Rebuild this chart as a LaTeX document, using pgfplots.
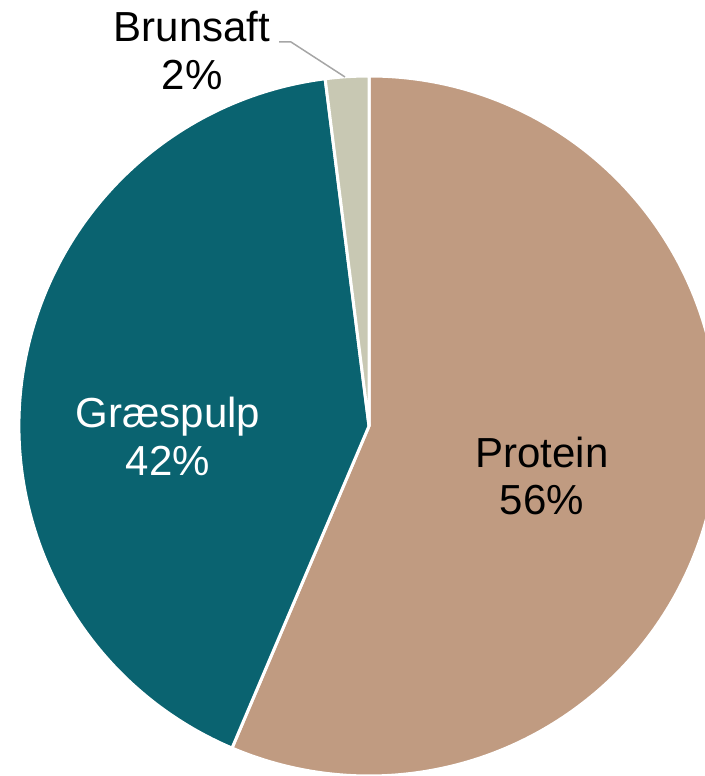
\documentclass[border=0pt]{standalone}
\usepackage{fontspec}
\setmainfont{Liberation Sans}
\usepackage{pgfplots}
\usepackage{pgfplotstable}
\pgfplotsset{compat=1.18}
\definecolor{cProtein}{HTML}{C09B81}
\definecolor{cGras}{HTML}{0A6370}
\definecolor{cBrun}{HTML}{C8C8B3}
\definecolor{cLead}{HTML}{A6A6A6}
\pgfplotstableread{
label value
Protein 56.4
Graespulp 41.6
Brunsaft 2.0
}\piedata
\pgfplotstablegetelem{0}{value}\of\piedata \let\vP\pgfplotsretval
\pgfplotstablegetelem{1}{value}\of\piedata \let\vG\pgfplotsretval
\pgfplotstablegetelem{2}{value}\of\piedata \let\vB\pgfplotsretval
\pgfmathsetmacro{\aA}{90}
\pgfmathsetmacro{\aB}{90-3.6*\vP}
\pgfmathsetmacro{\aC}{90-3.6*(\vP+\vG)}
\pgfmathsetmacro{\aD}{90-3.6*(\vP+\vG+\vB)}
\begin{document}
\begin{tikzpicture}
\begin{axis}[
  hide axis, scale only axis,
  width=352.5pt, height=388pt,
  xmin=0, xmax=705, ymin=0, ymax=776,
  clip=true,
]
\path (axis cs:0,0) rectangle (axis cs:705,776);
\filldraw[fill=cProtein, draw=white, line width=1.5pt, line join=round]
  (axis cs:369,350) -- ++(\aA:175pt) arc[start angle=\aA, end angle=\aB, radius=175pt] -- cycle;
\filldraw[fill=cGras, draw=white, line width=1.5pt, line join=round]
  (axis cs:369,350) -- ++(\aB:175pt) arc[start angle=\aB, end angle=\aC, radius=175pt] -- cycle;
\filldraw[fill=cBrun, draw=white, line width=1.5pt, line join=round]
  (axis cs:369,350) -- ++(\aC:175pt) arc[start angle=\aC, end angle=\aD, radius=175pt] -- cycle;
\addplot[cLead, line width=0.75pt] coordinates {(279,734) (291,734) (345,699)};
\node[anchor=base, font=\fontsize{21}{24}\selectfont] at (axis cs:192,734) {Brunsaft};
\node[anchor=base, font=\fontsize{21}{24}\selectfont] at (axis cs:192,686) {2\%};
\node[anchor=base, font=\fontsize{21}{24}\selectfont, text=white] at (axis cs:168,348) {Græspulp};
\node[anchor=base, font=\fontsize{21}{24}\selectfont, text=white] at (axis cs:168,300) {42\%};
\node[anchor=base, font=\fontsize{21}{24}\selectfont] at (axis cs:542,308) {Protein};
\node[anchor=base, font=\fontsize{21}{24}\selectfont] at (axis cs:542,261) {56\%};
\end{axis}
\end{tikzpicture}
\end{document}
